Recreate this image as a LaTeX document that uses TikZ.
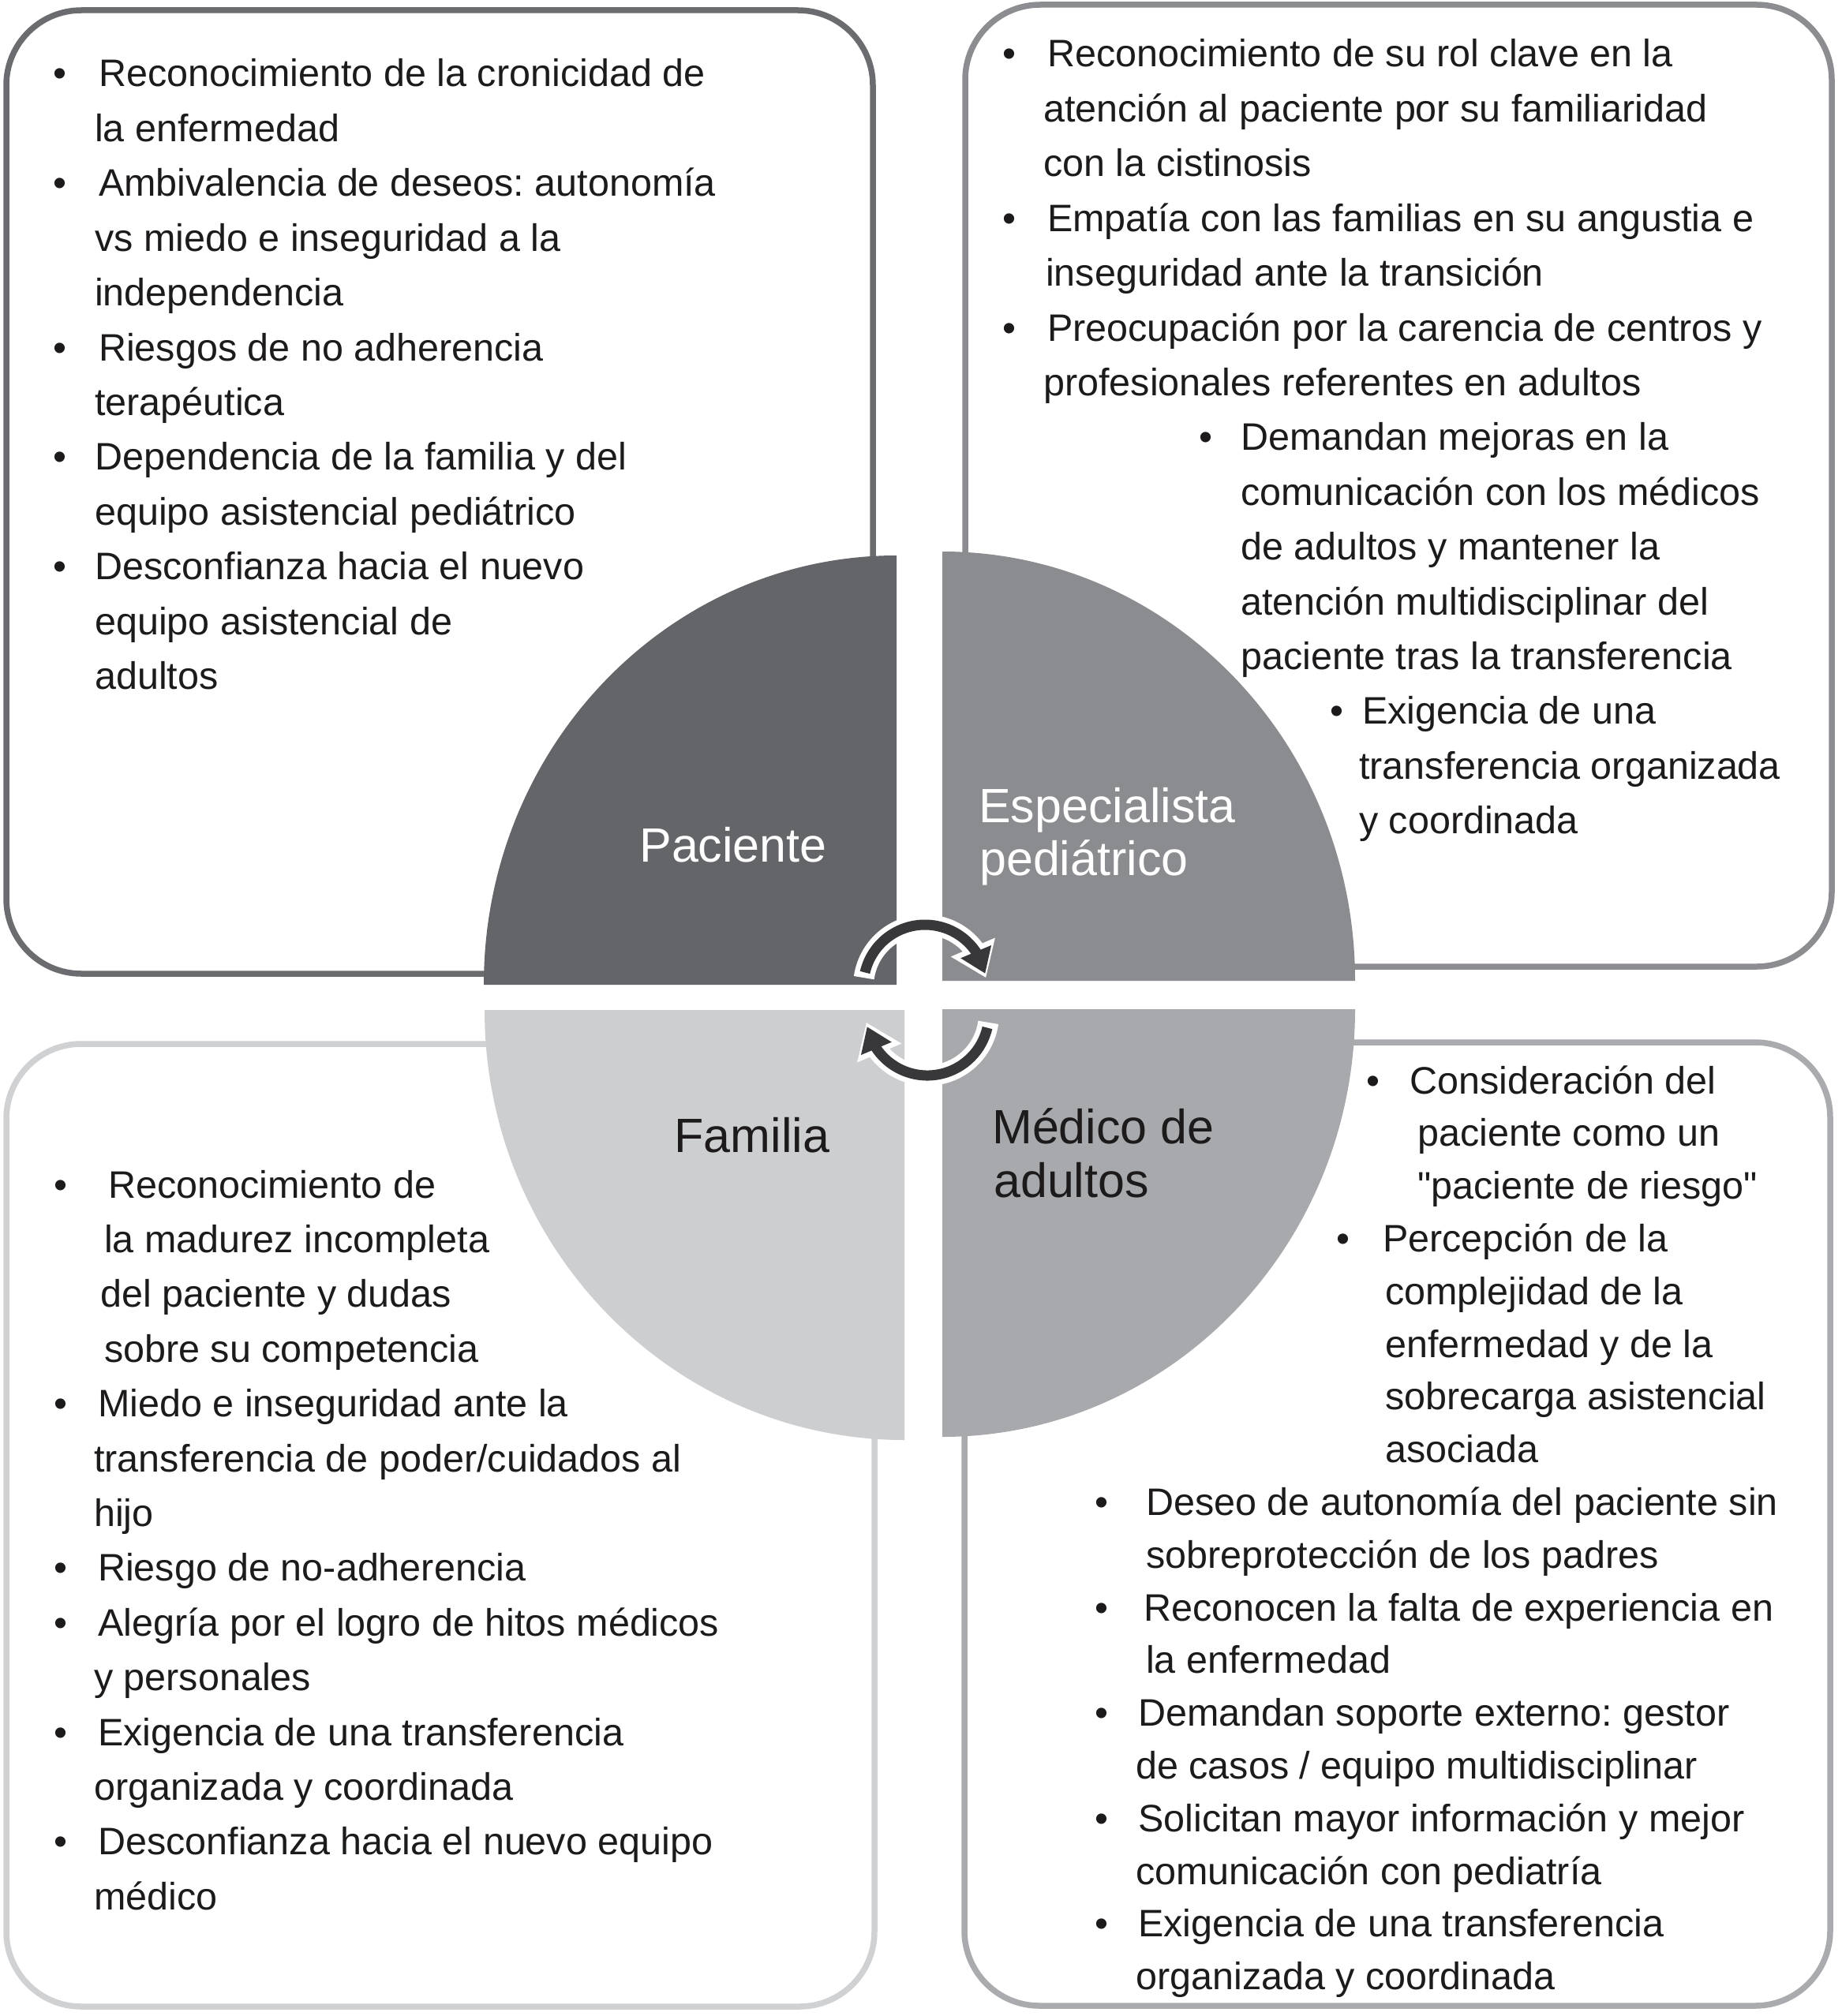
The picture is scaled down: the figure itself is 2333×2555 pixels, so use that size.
\documentclass[tikz,border=0pt]{standalone}
\usepackage{fontspec}
\setmainfont{Liberation Sans}
\usetikzlibrary{arrows.meta,bending}
\frenchspacing
\definecolor{cpac}{HTML}{636569}
\definecolor{cesp}{HTML}{8B8C8F}
\definecolor{cfam}{HTML}{CDCED0}
\definecolor{cmed}{HTML}{A7A9AC}
\definecolor{bpac}{HTML}{6B6C70}
\definecolor{besp}{HTML}{8C8D90}
\definecolor{bfam}{HTML}{D0D1D3}
\definecolor{bmed}{HTML}{A9ABAE}
\definecolor{tcol}{HTML}{1C1A1B}
\definecolor{carr}{HTML}{38383A}
\newcommand\TLine[4]{\node[txt] (#1) at (#2,#3) {#4};}
\newcommand\Bul[3]{\node[bul] (#1) at (#2,#3) {•};}
\begin{document}
\begin{tikzpicture}[x=1pt,y=-1pt,
  txt/.style={inner sep=0pt, anchor=base west, text=tcol, font=\fontsize{48.5}{58}\selectfont},
  bul/.style={inner sep=0pt, anchor=base, text=tcol, font=\fontsize{48.5}{58}\selectfont},
  lab/.style={inner sep=0pt, font=\fontsize{61}{70}\selectfont},
  boxline/.style={line width=7.5pt, rounded corners=95pt},
  arrbg/.style={white, line width=26pt, -{Triangle[flex,length=42pt,width=58pt]}},
  arrfg/.style={carr, line width=13pt, -{Triangle[flex,length=30pt,width=40pt]}}]
\fill[white] (0,0) rectangle (2333,2555);
\useasboundingbox (0,0) rectangle (2333,2555);
% boxes
\draw[boxline, bpac] (8,13) rectangle (1106,1234);
\draw[boxline, besp] (1223,6) rectangle (2321,1225);
\draw[boxline, bfam] (8,1323) rectangle (1108,2543);
\draw[boxline, bmed] (1222,1321) rectangle (2319,2542);
% quadrants
\fill[cpac] (1136,1248) -- (613,1248) arc[start angle=180, end angle=90, x radius=523pt, y radius=544pt] -- cycle;
\fill[cesp] (1194,1243) -- (1194,699) arc[start angle=90, end angle=0, x radius=523pt, y radius=544pt] -- cycle;
\fill[cfam] (1146,1280) -- (614,1280) arc[start angle=180, end angle=270, x radius=532pt, y radius=545pt] -- cycle;
\fill[cmed] (1194,1279) -- (1717,1279) arc[start angle=0, end angle=-90, x radius=523pt, y radius=542pt] -- cycle;
% cycle arrows
\coordinate (ca) at (1172,1250);
\coordinate (cb) at (1175,1285);
\draw[arrbg] ([shift={(172:78pt)}]ca) arc[start angle=172, end angle=8, radius=78pt];
\draw[arrfg] ([shift={(167:78pt)}]ca) arc[start angle=167, end angle=12, radius=78pt];
\draw[arrbg] ([shift={(-8:78pt)}]cb) arc[start angle=-8, end angle=-172, radius=78pt];
\draw[arrfg] ([shift={(-13:78pt)}]cb) arc[start angle=-13, end angle=-168, radius=78pt];
% quadrant labels
\node[lab, text=white, anchor=base] (paciente) at (929,1092) {Paciente};
\node[lab, text=white, anchor=base west] (esp1) at (1240,1042) {Especialista};
\node[lab, text=white, anchor=base west] (esp2) at (1241,1109) {pediátrico};
\node[lab, text=tcol, anchor=base] (familia) at (953,1460) {Familia};
\node[lab, text=tcol, anchor=base west] (med1) at (1257,1449) {Médico de};
\node[lab, text=tcol, anchor=base west] (med2) at (1259,1517) {adultos};
% top-left box
\Bul{tlb1}{76}{110}
\Bul{tlb2}{76}{248.8}
\Bul{tlb3}{76}{457}
\Bul{tlb4}{76}{595.8}
\Bul{tlb5}{76}{734.6}
\TLine{tl0}{125}{110}{Reconocimiento de la cronicidad de}
\TLine{tl1}{120}{179.4}{la enfermedad}
\TLine{tl2}{125}{248.8}{Ambivalencia de deseos: autonomía}
\TLine{tl3}{120}{318.2}{vs miedo e inseguridad a la}
\TLine{tl4}{120}{387.6}{independencia}
\TLine{tl5}{125}{457}{Riesgos de no adherencia}
\TLine{tl6}{120}{526.4}{terapéutica}
\TLine{tl7}{120}{595.8}{Dependencia de la familia y del}
\TLine{tl8}{120}{665.2}{equipo asistencial pediátrico}
\TLine{tl9}{120}{734.6}{Desconfianza hacia el nuevo}
\TLine{tl10}{120}{804}{equipo asistencial de}
\TLine{tl11}{120}{873.4}{adultos}
% top-right box
\Bul{trb1}{1279}{85}
\Bul{trb2}{1279}{293.2}
\Bul{trb3}{1279}{432}
\Bul{trb4}{1528}{570.8}
\Bul{trb5}{1694}{917.8}
\TLine{tr0}{1327}{85}{Reconocimiento de su rol clave en la}
\TLine{tr1}{1322}{154.4}{atención al paciente por su familiaridad}
\TLine{tr2}{1322}{223.8}{con la cistinosis}
\TLine{tr3}{1327}{293.2}{Empatía con las familias en su angustia e}
\TLine{tr4}{1325}{362.6}{inseguridad ante la transición}
\TLine{tr5}{1327}{432}{Preocupación por la carencia de centros y}
\TLine{tr6}{1322}{501.4}{profesionales referentes en adultos}
\TLine{tr7}{1572}{570.8}{Demandan mejoras en la}
\TLine{tr8}{1572}{640.2}{comunicación con los médicos}
\TLine{tr9}{1572}{709.6}{de adultos y mantener la}
\TLine{tr10}{1572}{779}{atención multidisciplinar del}
\TLine{tr11}{1572}{848.4}{paciente tras la transferencia}
\TLine{tr12}{1726}{917.8}{Exigencia de una}
\TLine{tr13}{1722}{987.2}{transferencia organizada}
\TLine{tr14}{1722}{1056.6}{y coordinada}
% bottom-left box
\Bul{blb1}{77}{1518}
\Bul{blb2}{77}{1795.6}
\Bul{blb3}{77}{2003.8}
\Bul{blb4}{77}{2073.2}
\Bul{blb5}{77}{2212}
\Bul{blb6}{77}{2350.8}
\TLine{bl0}{137}{1518}{Reconocimiento de}
\TLine{bl1}{132}{1587.4}{la madurez incompleta}
\TLine{bl2}{127}{1656.8}{del paciente y dudas}
\TLine{bl3}{132}{1726.2}{sobre su competencia}
\TLine{bl4}{124}{1795.6}{Miedo e inseguridad ante la}
\TLine{bl5}{119}{1865}{transferencia de poder/cuidados al}
\TLine{bl6}{119}{1934.4}{hijo}
\TLine{bl7}{124}{2003.8}{Riesgo de no-adherencia}
\TLine{bl8}{124}{2073.2}{Alegría por el logro de hitos médicos}
\TLine{bl9}{119}{2142.6}{y personales}
\TLine{bl10}{124}{2212}{Exigencia de una transferencia}
\TLine{bl11}{119}{2281.4}{organizada y coordinada}
\TLine{bl12}{124}{2350.8}{Desconfianza hacia el nuevo equipo}
\TLine{bl13}{119}{2420.2}{médico}
% bottom-right box
\Bul{brb1}{1740}{1386}
\Bul{brb2}{1702}{1586.4}
\Bul{brb3}{1396}{1920.4}
\Bul{brb4}{1396}{2054}
\Bul{brb5}{1396}{2187.6}
\Bul{brb6}{1396}{2321.2}
\Bul{brb7}{1396}{2454.8}
\TLine{br0}{1786}{1386}{Consideración del}
\TLine{br1}{1796}{1452.8}{paciente como un}
\TLine{br2}{1796}{1519.6}{\textquotedbl paciente de riesgo\textquotedbl}
\TLine{br3}{1752}{1586.4}{Percepción de la}
\TLine{br4}{1755}{1653.2}{complejidad de la}
\TLine{br5}{1755}{1720}{enfermedad y de la}
\TLine{br6}{1755}{1786.8}{sobrecarga asistencial}
\TLine{br7}{1755}{1853.6}{asociada}
\TLine{br8}{1452}{1920.4}{Deseo de autonomía del paciente sin}
\TLine{br9}{1452}{1987.2}{sobreprotección de los padres}
\TLine{br10}{1449}{2054}{Reconocen la falta de experiencia en}
\TLine{br11}{1452}{2120.8}{la enfermedad}
\TLine{br12}{1442}{2187.6}{Demandan soporte externo: gestor}
\TLine{br13}{1439}{2254.4}{de casos / equipo multidisciplinar}
\TLine{br14}{1442}{2321.2}{Solicitan mayor información y mejor}
\TLine{br15}{1439}{2388}{comunicación con pediatría}
\TLine{br16}{1442}{2454.8}{Exigencia de una transferencia}
\TLine{br17}{1439}{2521.6}{organizada y coordinada}
\end{tikzpicture}
\end{document}
